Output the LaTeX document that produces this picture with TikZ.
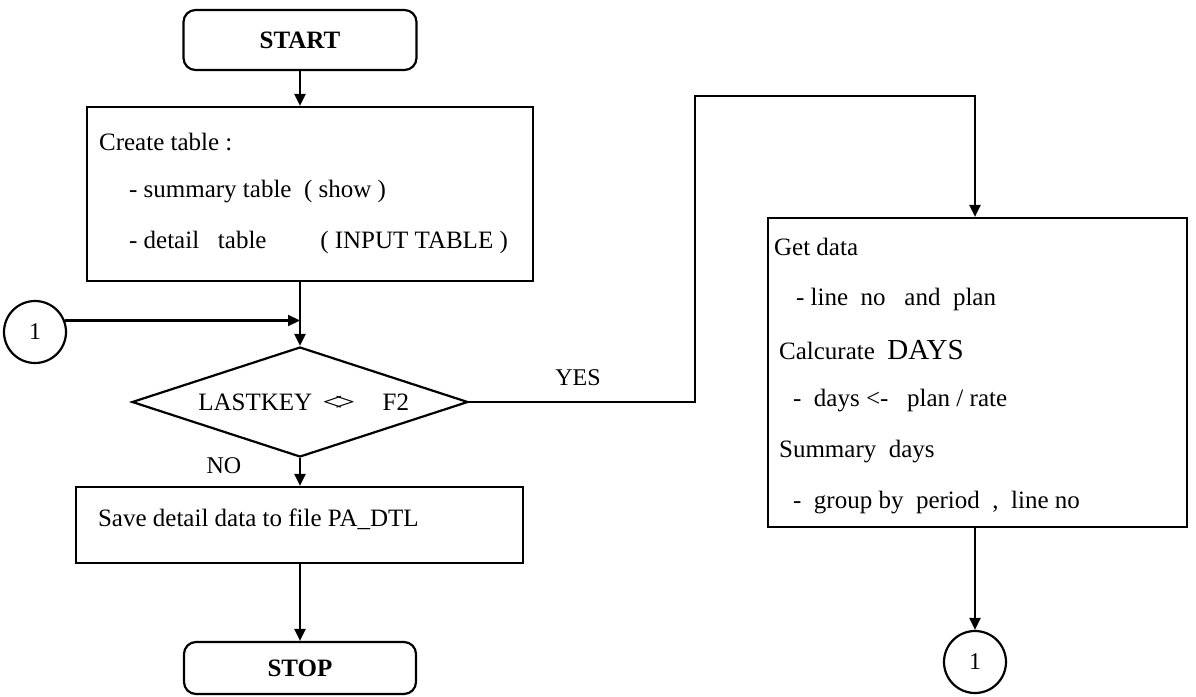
\documentclass[tikz,border=0pt]{standalone}
\usepackage{fontspec}
\setmainfont{Liberation Serif}
\usetikzlibrary{shapes.geometric,arrows.meta}
\begin{document}
\begin{tikzpicture}[x=0.5pt,y=-0.5pt,
  line width=1.1pt,
  arr/.style={-{Triangle[length=6pt,width=5.5pt]}},
  terminal/.style={draw, rounded corners=6pt, font=\fontsize{12.5}{14}\selectfont\bfseries, inner sep=0pt},
  procbox/.style={draw, inner sep=0pt},
  txt/.style={anchor=west, inner sep=0pt, font=\fontsize{12.5}{14}\selectfont},
  lbl/.style={inner sep=0pt, font=\fontsize{12}{14}\selectfont},
  conn/.style={draw, circle, minimum size=31pt, inner sep=0pt, font=\fontsize{12}{14}\selectfont},
  decision/.style={draw, diamond, aspect=3.05, minimum width=168pt, minimum height=55pt, inner sep=0pt, font=\fontsize{12.5}{14}\selectfont}
]
\fill[white] (0,0) rectangle (1196,697);
\useasboundingbox (0,0) rectangle (1196,697);

% left column
\node[terminal, minimum width=116.5pt, minimum height=30pt] (start) at (300,40) {START};
\node[procbox, minimum width=223pt, minimum height=87pt] (create) at (310,194) {};
\node[txt] (c1t) at (98,142) {Create table :};
\node[txt] (c2t) at (128,192) {- summary table \ ( show )};
\node[txt] (c3t) at (128,242) {- detail \ \ table \hspace{1.9em}( INPUT TABLE )};
\node[decision] (dec) at (300,402) {\hspace{0.3em}LASTKEY\hspace{0.4em}\scalebox{1.45}[1]{<\kern-.22em>}\hspace{1.1em}F2};
\node[procbox, minimum width=223.5pt, minimum height=38pt] (save) at (299.5,525) {};
\node[txt] (savet) at (97,519) {Save detail data to file PA\_DTL};
\node[terminal, minimum width=116pt, minimum height=26pt] (stop) at (300,668) {STOP};
\node[conn] (cA) at (35,332) {1};
\node[lbl] (no) at (224,466) {NO};
\node[lbl] (yes) at (578,378) {YES};

% right column
\node[procbox, minimum width=209.5pt, minimum height=154.5pt] (calc) at (977.5,372.5) {};
\node[txt] (r1) at (773,247) {Get data};
\node[txt] (r2) at (795,299) {- line \ no \ \ and \ plan};
\node[txt] (r3) at (778,350) {Calcurate \ {\fontsize{14.5}{16}\selectfont DAYS}};
\node[txt] (r4) at (792,401) {- \ days <- \ \ plan / rate};
\node[txt] (r5) at (778,452) {Summary \ days};
\node[txt] (r6) at (792,503) {- \ group by \ period \ , \ line no};
\node[conn] (cB) at (975,662) {1};

% connectors
\coordinate (k1) at (695,96);
\coordinate (join) at (dec.north |- cA.21);
\draw[arr] (start.south) -- (start.south |- create.north);
\draw[arr] (create.south -| dec.north) -- (dec.north);
\draw[arr] (cA.21) -- (join);
\draw[arr] (dec.south) -- (dec.south |- save.north);
\draw[arr] (save.south -| stop.north) -- (stop.north);
\draw[arr] (dec.east) -- (dec.east -| k1) -- (k1) -- (k1 -| cB) -- (cB |- calc.north);
\draw[arr] (calc.south -| cB) -- (cB.north);
\end{tikzpicture}
\end{document}
